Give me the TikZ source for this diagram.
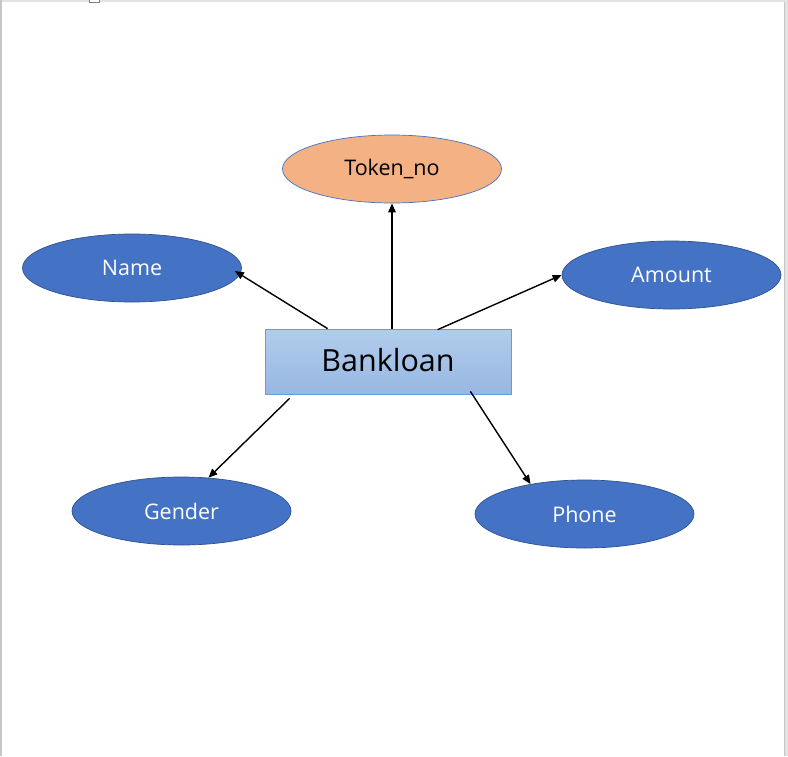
\documentclass[tikz,border=0pt]{standalone}
\usepackage{fontspec}
\setmainfont{Open Sans}
\usetikzlibrary{shapes.geometric,arrows.meta,calc}
\definecolor{entblue}{HTML}{4472C4}
\definecolor{entedge}{HTML}{2F528F}
\definecolor{keyfill}{HTML}{F4B183}
\definecolor{boxtop}{HTML}{B2CCEB}
\definecolor{boxbot}{HTML}{97B8E3}
\definecolor{boxedge}{HTML}{6A9BD8}
\definecolor{pagegray}{HTML}{E3E3E3}
\definecolor{edgegray}{HTML}{C6C6C6}
\tikzset{
  attr/.style={ellipse, draw=entedge, line width=0.7pt, fill=entblue, text=white,
    minimum width=219pt, minimum height=68pt, inner sep=0pt,
    font=\fontsize{21.5}{24}\selectfont},
  keyattr/.style={attr, fill=keyfill, draw=entblue, text=black},
  entbox/.style={rectangle, draw=boxedge, line width=0.7pt, top color=boxtop, bottom color=boxbot,
    minimum width=246pt, minimum height=65pt, inner sep=0pt,
    font=\fontsize{30.5}{34}\selectfont},
  conn/.style={line width=1.4pt, -{Triangle[length=9pt,width=7.5pt]}}
}
\begin{document}
\begin{tikzpicture}[x=1pt,y=-1pt]
\useasboundingbox (0,0) rectangle (788,756);
% page frame
\fill[white] (0,0) rectangle (788,756);
\fill[pagegray] (0,0) rectangle (788,2);
\fill[edgegray] (0,0) rectangle (1.5,756);
\fill[pagegray] (784,0) rectangle (788,756);
\fill[edgegray] (783.5,2) rectangle (784.5,756);
\draw[gray, line width=0.8pt, fill=white] (89.5,-2) rectangle (99.5,2);
% nodes
\node[entbox] (bl) at (388,361.5) {\raisebox{3pt}{Bankloan}};
\node[keyattr] (tok) at (392,169) {Token\_no};
\node[attr] (name) at (132,268) {Name};
\node[attr] (amt) at (671.5,275) {Amount};
\node[attr] (gen) at (181.5,511) {Gender};
\node[attr] (ph) at (584.5,514) {Phone};
% attachment points
\coordinate (sName) at ($(bl.north west)+(63,0)$);
\coordinate (sAmt) at ($(bl.north west)+(173,1)$);
\coordinate (sGen) at ($(bl.south west)+(25,4)$);
\coordinate (sPh) at ($(bl.south east)+(-41,-3)$);
\coordinate (eName) at ($(name.east)+(-7,3)$);
% connectors
\draw[conn] (tok.south |- bl.north) -- (tok.south);
\draw[conn] (sName) -- (eName);
\draw[conn] (sAmt) -- (amt.west);
\draw[conn] (sGen) -- (gen.51);
\draw[conn] (sPh) -- (ph.151);
\end{tikzpicture}
\end{document}
